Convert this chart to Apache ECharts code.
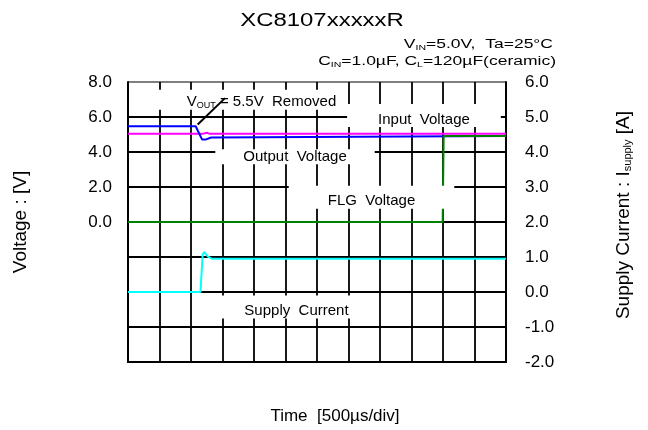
<!DOCTYPE html>
<html><head><meta charset="utf-8">
<script src="https://cdn.jsdelivr.net/npm/echarts@6/dist/echarts.min.js"></script>
<style>html,body{margin:0;padding:0;background:#fff}#c{width:648px;height:430px}</style>
</head><body><div id="c"></div>
<script>
// ---- data (time in µs, 500 µs/div) ----
const inputVoltage   = [[0,5.05],[1200,5.05],[1250,5.1],[1290,5.05],[6000,5.05]];
const outputVoltage  = [[0,5.47],[1075,5.47],[1110,5.2],[1175,4.72],[1240,4.72],[1255,4.82],[1320,4.83],[1345,4.91],[6000,4.91]];
const flgVoltage     = [[0,0],[4995,0],[5010,4.92],[6000,4.92]];
const supplyCurrent  = [[0,0],[1150,0],[1165,0.05],[1185,1.07],[1210,1.14],[1240,1.1],[1265,1.02],[1330,0.95],[6000,0.95]];
const timeRange      = [0, 6000, 500];
const voltageRange   = [-8, 8, 2];
const currentRange   = [-2, 6, 1];
const titleText      = 'XC8107xxxxxR';
const condition1     = 'V{s|IN}=5.0V,  Ta=25°C';
const condition2     = 'C{s|IN}=1.0µF, C{s|L}=120µF(ceramic)';
const noteTexts      = ['V{s|OUT} = 5.5V  Removed', 'Input  Voltage', 'Output  Voltage', 'FLG  Voltage', 'Supply  Current'];
const noteAnchors    = [[1722, 6.98], [4698, 6.08], [2651, 3.73], [3865, 1.42], [2452, -4.85]];
const arrowFromTo    = [[1540, 7.08], [1106, 5.57]];

// ---- styling ----
const FONT = '"Liberation Sans", Arial, sans-serif';
const notePads = [[5,0,0,50],[8,31,0,31],[0,28,0,28],[8,39,0,39],[8,22,0,50]];
const sub = {fontSize: 9, lineHeight: 9, verticalAlign: 'bottom', fontFamily: FONT, color: '#000'};
const axisSub = {fontSize: 11, lineHeight: 11, verticalAlign: 'bottom', fontFamily: FONT, color: '#000'};

const chart = echarts.init(document.getElementById('c'), null, {renderer: 'canvas'});
const splitColors = [];
for (let v = voltageRange[0]; v <= voltageRange[1]; v += voltageRange[2]) splitColors.push(v === voltageRange[1] ? '#7f7f7f' : '#000');

const option = {
  animation: false,
  backgroundColor: '#fff',
  textStyle: {fontFamily: FONT},
  grid: {left: 128, right: 142, top: 82, bottom: 65, containLabel: false},
  graphic: [
    {type: 'text', x: 322, y: 21, scaleX: 1.33, z: 10,
     style: {text: titleText, fontSize: 18, fontFamily: FONT, fill: '#000', align: 'center', verticalAlign: 'middle'}},
    {type: 'text', x: 553, y: 45, scaleX: 1.4, z: 10,
     style: {text: condition1, fontSize: 12.5, fontFamily: FONT, fill: '#000', align: 'right', verticalAlign: 'middle', lineHeight: 14,
             rich: {s: {fontSize: 7.5, lineHeight: 7, verticalAlign: 'bottom', fontFamily: FONT, fill: '#000'}}}},
    {type: 'text', x: 556, y: 62, scaleX: 1.4, z: 10,
     style: {text: condition2, fontSize: 12.5, fontFamily: FONT, fill: '#000', align: 'right', verticalAlign: 'middle', lineHeight: 14,
             rich: {s: {fontSize: 7.5, lineHeight: 7, verticalAlign: 'bottom', fontFamily: FONT, fill: '#000'}}}}
  ],
  xAxis: {
    type: 'value', min: timeRange[0], max: timeRange[1], interval: timeRange[2],
    axisLine: {show: true, onZero: false, lineStyle: {color: '#000', width: 2}},
    axisTick: {show: false}, axisLabel: {show: false},
    splitLine: {show: true, lineStyle: {color: '#000', width: 1.8}},
    name: 'Time  [500µs/div]', nameLocation: 'middle', nameGap: 46,
    nameTextStyle: {fontSize: 17, fontFamily: FONT, color: '#000', padding: [0, 0, 0, 36]}
  },
  yAxis: [
    {type: 'value', position: 'left', min: voltageRange[0], max: voltageRange[1], interval: voltageRange[2],
     axisLine: {show: true, onZero: false, lineStyle: {color: '#000', width: 2}},
     axisTick: {show: false},
     axisLabel: {fontSize: 17, fontFamily: FONT, color: '#000', margin: 16, padding: [12, 0, 0, 0],
                 formatter: v => v >= 0 ? v.toFixed(1) : ''},
     splitLine: {show: true, lineStyle: {color: splitColors, width: 1.8}},
     name: 'Voltage : [V]', nameLocation: 'middle', nameRotate: 90, nameGap: 98,
     nameTextStyle: {fontSize: 19, fontFamily: FONT, color: '#000'}},
    {type: 'value', position: 'right', min: currentRange[0], max: currentRange[1], interval: currentRange[2],
     axisLine: {show: true, onZero: false, lineStyle: {color: '#000', width: 2}},
     axisTick: {show: false},
     axisLabel: {fontSize: 17, fontFamily: FONT, color: '#000', margin: 19, padding: [12, 0, 0, 0],
                 formatter: v => v.toFixed(1)},
     splitLine: {show: false},
     name: 'Supply Current : I{s|supply} [A]', nameLocation: 'middle', nameRotate: 90, nameGap: 108,
     nameTextStyle: {fontSize: 19, fontFamily: FONT, color: '#000', padding: [0, 0, 0, 14], rich: {s: axisSub}}}
  ],
  series: [
    {name: 'Input Voltage', type: 'line', yAxisIndex: 0, data: inputVoltage, showSymbol: false, symbol: 'none',
     lineStyle: {color: '#ff00ff', width: 2}, z: 2},
    {name: 'Output Voltage', type: 'line', yAxisIndex: 0, data: outputVoltage, showSymbol: false, symbol: 'none',
     lineStyle: {color: '#0000ff', width: 2}, z: 2,
     markLine: {silent: true, z: 6, symbol: ['none', 'arrow'], symbolSize: [0, 12],
                lineStyle: {color: '#000', width: 2, type: 'solid'}, label: {show: false},
                data: [[{coord: arrowFromTo[0]}, {coord: arrowFromTo[1]}]]}},
    {name: 'FLG Voltage', type: 'line', yAxisIndex: 0, data: flgVoltage, showSymbol: false, symbol: 'none',
     lineStyle: {color: '#008000', width: 2}, z: 2},
    {name: 'Supply Current', type: 'line', yAxisIndex: 1, data: supplyCurrent, showSymbol: false, symbol: 'none',
     lineStyle: {color: '#00ffff', width: 2}, z: 2},
    {name: 'notes', type: 'scatter', yAxisIndex: 0, z: 4, silent: true, symbolSize: 1,
     itemStyle: {color: 'rgba(0,0,0,0)', opacity: 1},
     label: {show: true, position: 'inside', align: 'center', verticalAlign: 'middle',
             fontSize: 15, fontFamily: FONT, color: '#000', backgroundColor: '#fff', rich: {s: sub}},
     data: noteTexts.map((t, i) => ({value: noteAnchors[i], label: {formatter: t, padding: notePads[i]}}))}
  ]
};
chart.setOption(option);
</script></body></html>
